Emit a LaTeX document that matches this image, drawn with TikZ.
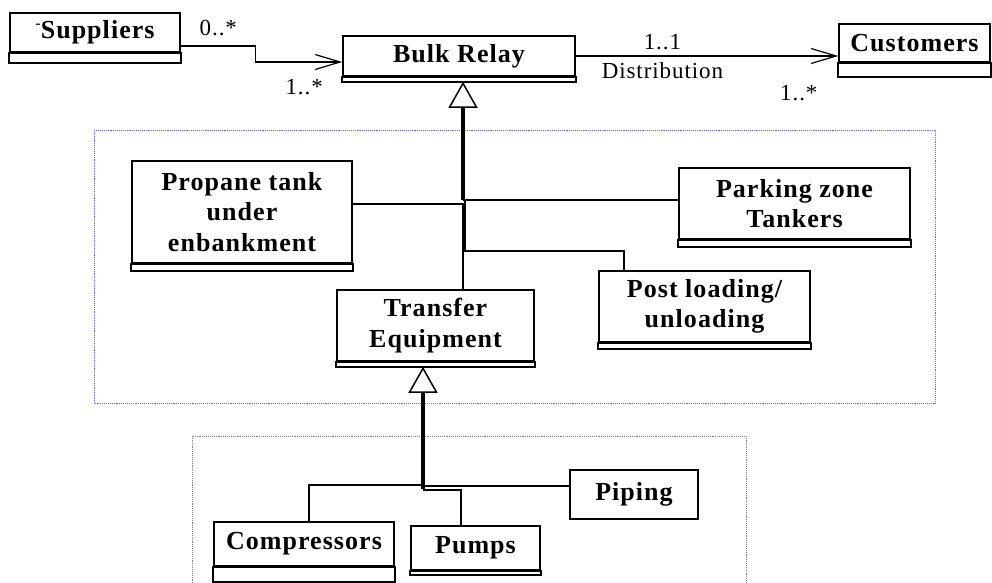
\documentclass[tikz,border=0pt]{standalone}
\usepackage{fontspec}
\setmainfont{Liberation Serif}
\newfontfamily\umlfont[LetterSpace=4]{Liberation Serif}
\usetikzlibrary{arrows.meta}
\newcommand{\privmark}{{\mdseries\fontsize{16}{16}\selectfont\raisebox{10pt}{-}}}

\begin{document}
\begin{tikzpicture}[x=1pt,y=-1pt]
 \tikzset{
  classbox/.style={draw,line width=1.6pt,inner sep=0pt,align=center,
    font=\umlfont\bfseries\fontsize{26}{30.5}\selectfont},
  mult/.style={inner sep=0pt,font=\umlfont\fontsize{23}{26}\selectfont},
  assoc/.style={line width=1.2pt,-{Straight Barb[length=25pt,width=15pt]}},
  gen/.style={line width=3.6pt,-{Triangle[open,length=26pt,width=29pt,line width=1.5pt]}},
  tree/.style={line width=1.3pt},
  pkg/.style={densely dotted,line width=0.9pt}
 }
 \useasboundingbox (0,0) rectangle (992,582);

 % packages
 \draw[pkg,blue!60] (94,130) rectangle (935,403);
 \draw[pkg,gray] (192,436) rectangle (746,640);

 % classes
 \node[classbox,minimum width=170pt,minimum height=39pt] (sup) at (95,32.5) {\privmark Suppliers};
 \node[classbox,minimum width=232pt,minimum height=40pt] (bulk) at (459,56) {Bulk Relay};
 \node[classbox,minimum width=151pt,minimum height=38pt] (cust) at (914.5,43) {Customers};
 \node[classbox,minimum width=220pt,minimum height=102pt] (prop) at (242,212) {Propane tank\\under\\enbankment};
 \node[classbox,minimum width=231pt,minimum height=71pt] (park) at (794.5,203.5) {Parking zone\\Tankers};
 \node[classbox,minimum width=211pt,minimum height=71pt] (post) at (704.5,306.5) {Post loading/\\unloading};
 \node[classbox,minimum width=197pt,minimum height=71pt] (tran) at (435.5,325.5) {Transfer\\Equipment};
 \node[classbox,minimum width=180pt,minimum height=44pt] (comp) at (304,544) {Compressors};
 \node[classbox,minimum width=129pt,minimum height=44pt] (pump) at (475.5,548) {Pumps};
 \node[classbox,minimum width=128pt,minimum height=49pt] (pipe) at (634,494.5) {Piping};

 % empty attribute compartments
 \foreach \n/\g in {sup/10,bulk/5,cust/14,prop/7,park/7,post/6,tran/5,comp/15,pump/4} {
  \draw[line width=1.6pt] (\n.south west) rectangle ([yshift=-\g pt]\n.south east);
  \coordinate (\n-b) at ([yshift=-\g pt]\n.south);
 }

 % associations
 \draw[assoc] ([yshift=-13.5pt]sup.east) -- node[mult,above=10pt] {0..*} ++(75,0)
   |- node[mult,pos=0.78,below=17pt] {1..*} ([yshift=-6pt]bulk.west);
 \draw[assoc] (bulk.east) -- node[mult,pos=0.33,above=6pt] {1..1}
   node[mult,pos=0.33,below=6pt] {Distribution}
   node[mult,pos=0.85,below=29pt] {1..*} (bulk.east -| cust.west);

 % generalization into Bulk Relay
 \coordinate (j1) at (463,200);
 \coordinate (p1) at (624,251);
 \draw[gen] (j1) -- (j1 |- bulk-b);
 \draw[tree] ([yshift=8pt]prop.east) -| (j1 |- tran.north);
 \draw[tree] (j1) -- (j1 -| park.west);
 \draw[tree] ([xshift=2pt]j1) |- (p1) -- (p1 |- post.north);

 % generalization into Transfer Equipment
 \coordinate (j2) at (423,489);
 \coordinate (j3) at (423,486);
 \draw[gen] (j2) -- (j2 |- tran-b);
 \draw[tree] ([yshift=4pt]j2) -| ([xshift=5pt]comp.north);
 \draw[tree] (j3) -- (j3 -| pipe.west);
 \draw[tree] ([yshift=-1pt]j2) -| ([xshift=-14.5pt]pump.north);
\end{tikzpicture}
\end{document}
